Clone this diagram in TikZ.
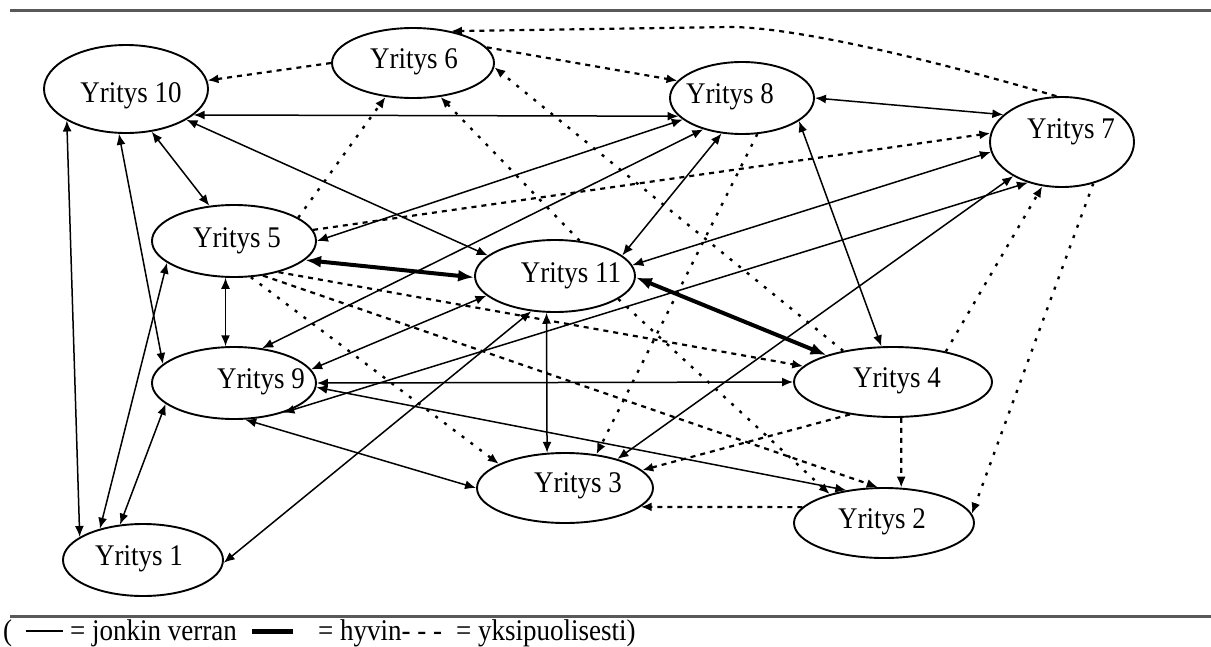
\documentclass[tikz,border=0pt]{standalone}
\usepackage{fontspec}
\setmainfont{Liberation Serif}
\newfontfamily\cofont[FakeStretch=0.9]{Liberation Serif}
\usetikzlibrary{arrows.meta,shapes.geometric}
\begin{document}
\begin{tikzpicture}[x=1pt,y=-1pt,
  co/.style={ellipse, draw, line width=1.9pt, fill=white, inner sep=0pt},
  lab/.style={font=\cofont\fontsize{30}{32}\selectfont, inner sep=0pt},
  lgtext/.style={font=\cofont\fontsize{30}{32}\selectfont, inner sep=0pt, anchor=base west},
  bi/.style={line width=1.5pt, {Latex[length=11pt,width=9pt]}-{Latex[length=11pt,width=9pt]}},
  thk/.style={line width=4pt, {Latex[length=16pt,width=12pt]}-{Latex[length=16pt,width=12pt]}},
  dsh/.style={line width=2.2pt, dash pattern=on 5pt off 5pt, -{Latex[length=11pt,width=9pt]}},
  dtt/.style={line width=2.4pt, dash pattern=on 3pt off 8pt, -{Latex[length=11pt,width=9pt]}},
  frame/.style={line width=3pt, black!65}
]
\useasboundingbox (0,0) rectangle (1211,646);

% frame lines
\coordinate (tl) at (10,10); \coordinate (tr) at (1211,10);
\coordinate (bl) at (10,616); \coordinate (br) at (1211,616);
\draw[frame] (tl) -- (tr);
\draw[frame] (bl) -- (br);

% companies
\node[co, minimum width=164pt, minimum height=88pt, label={[lab,name=t10,xshift=5pt,yshift=-7pt]center:Yritys 10}] (n10) at (126,89) {};
\node[co, minimum width=162pt, minimum height=70pt, label={[lab,name=t6,xshift=1pt,yshift=1pt]center:Yritys 6}] (n6) at (413,63) {};
\node[co, minimum width=164pt, minimum height=72pt, label={[lab,name=t5,xshift=3pt]center:Yritys 5}] (n5) at (234,241) {};
\node[co, minimum width=160pt, minimum height=72pt, label={[lab,name=t11,xshift=16pt]center:Yritys 11}] (n11) at (555,276) {};
\node[co, minimum width=144pt, minimum height=72pt, label={[lab,name=t8,xshift=-12pt,yshift=1pt]center:Yritys 8}] (n8) at (742,98) {};
\node[co, minimum width=144pt, minimum height=90pt, label={[lab,name=t7,xshift=9pt,yshift=10pt]center:Yritys 7}] (n7) at (1062,142) {};
\node[co, minimum width=164pt, minimum height=72pt, label={[lab,name=t9,xshift=27pt,yshift=1pt]center:Yritys 9}] (n9) at (234,383) {};
\node[co, minimum width=160pt, minimum height=72pt, label={[lab,name=t1,xshift=-4pt,yshift=1pt]center:Yritys 1}] (n1) at (143,560) {};
\node[co, minimum width=176pt, minimum height=70pt, label={[lab,name=t3,xshift=13pt,yshift=2pt]center:Yritys 3}] (n3) at (565,488) {};
\node[co, minimum width=198pt, minimum height=70pt, label={[lab,name=t4,xshift=4pt,yshift=1pt]center:Yritys 4}] (n4) at (893,382) {};
\node[co, minimum width=180pt, minimum height=70pt, label={[lab,name=t2,xshift=-2pt,yshift=1pt]center:Yritys 2}] (n2) at (884,523) {};

% solid two-way links
\draw[bi] (n10.-21) -- (n8.196);
\draw[bi] (n10.-27) -- (n11.163);
\draw[bi] (n10.-59) -- (n5.125);
\draw[bi] (n10.261) -- (n9.165);
\draw[bi] (n10.208) -- (n1.160);
\draw[bi] (n5.198) -- (n1.144);
\draw[bi] (n9.197) -- (n1.123);
\draw[bi] (n5.257) -- (n9.103);
\draw[bi] (n5.0) -- (n8.200);
\draw[bi] (n9.51) -- (n8.219);
\draw[bi] (n8.240) -- (n11.17);
\draw[bi] (n8.0) -- (n7.155);
\draw[bi] (n7.188) -- (n11.8);
\draw[bi] (n7.230) -- (n9.-31);
\draw[bi] (n7.215) -- (n3.29);
\draw[bi] (n8.-22) -- (n4.108);
\draw[bi] (n9.10) -- (n11.196);
\draw[bi] (n9.0) -- (n4.180);
\draw[bi] (n9.-3) -- (n2.139);
\draw[bi] (n9.-73) -- (n3.180);
\draw[bi] (n11.257.5) -- (n3.117);
\draw[bi] (n11.236) -- (n1.-2);

% strong links
\draw[thk] (n5.-15) -- (n11.181);
\draw[thk] (n11.-1) -- (n4.158);

% one-way links
\draw[dsh] (n6.180) -- (n10.6);
\draw[dsh] (n6.12) -- (n8.165);
\draw[dsh] (n7.97) .. controls (950,65) and (800,27) .. (730,27) -- (n6.40);
\draw[dtt] (n7.-53) -- (n2.6);
\draw[dtt] (n4.30) -- (n7.246);
\draw[dsh] (n5.8) -- (n7.173);
\draw[dtt] (n5.20) -- (n6.231);
\draw[dtt] (n11.55) -- (n6.-51);
\draw[dtt] (n4.148) -- (n6.-3);
\draw[dtt] (n8.-67) -- (n3.47);
\draw[dtt] (n5.-65) -- (n3.160);
\draw[dsh] (n5.-35) -- (n4.170);
\draw[dsh] (n5.-50) -- (n2.100);
\draw[dtt] (n11.-20) -- (n2.152);
\draw[dsh] (n4.217) -- (n3.13);
\draw[dsh] (n2.169) -- (n3.-14);
\draw[dsh] (n4.-77) -- (n2.64);

% legend
\node[lgtext] (lp) at (3,640) {(};
\coordinate (la) at (26,631); \coordinate (lb) at (63,631);
\draw[line width=1.5pt] (la) -- (lb);
\node[lgtext] (lj) at (70,640) {= jonkin verran};
\coordinate (lc) at (252,631); \coordinate (ld) at (293,631);
\draw[line width=5pt] (lc) -- (ld);
\node[lgtext] (lh) at (318,640) {= hyvin- - -\hspace{14pt}= yksipuolisesti)};
\end{tikzpicture}
\end{document}
